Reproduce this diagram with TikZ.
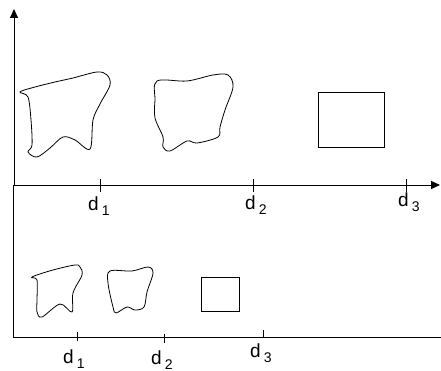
\documentclass[tikz,border=0pt]{standalone}
\usepackage{fontspec}
\setmainfont{Liberation Sans}
\usepackage{tikz}
\usetikzlibrary{arrows.meta,positioning}
\newcommand{\dlab}[1]{d\hspace{3pt}\raisebox{-5pt}{\fontsize{14}{14}\selectfont #1}}

\begin{document}
\begin{tikzpicture}[x=1pt,y=-1pt,font=\fontsize{19}{21}\selectfont,
axis/.style={line width=0.9pt,-{Triangle[length=9pt,width=8pt]}},
frame/.style={line width=0.8pt},
tickmark/.style={line width=0.8pt},
blob/.style={line width=0.8pt,smooth cycle,tension=0.55},
lbl/.style={anchor=base west,inner sep=0pt}]
\useasboundingbox (0,0) rectangle (441,371);
% axes and lower frame
\coordinate (origin) at (14,185);
\coordinate (ytip) at (14,9);
\coordinate (xtip) at (440,185);
\coordinate (lowtl) at (13,185);
\coordinate (lowbl) at (13,337);
\coordinate (lowbr) at (441,337);
\draw[axis] (origin)--(ytip);
\draw[axis] (origin)--(xtip);
\draw[frame] (lowtl)--(lowbl)--(lowbr);
% upper ticks and labels
\foreach \x in {100,253,406} \draw[tickmark] (\x,179)--(\x,192);
\node[lbl] (up1) at (88,211) {\dlab{1}};
\node[lbl] (up2) at (245,210) {\dlab{2}};
\node[lbl] (up3) at (398,207) {\dlab{3}};
% lower ticks and labels
\draw[tickmark] (77,332)--(77,341);
\draw[tickmark] (164,334)--(164,343);
\draw[tickmark] (263,330)--(263,338);
\node[lbl] (low1) at (63,363) {\dlab{1}};
\node[lbl] (low2) at (151,364) {\dlab{2}};
\node[lbl] (low3) at (250,357) {\dlab{3}};
% upper shapes
\draw[blob] plot coordinates {(20,92) (28,97) (31,120) (32,145) (28,152) (37,157) (50,148) (63,137) (75,140) (90,149) (93,120) (100,104) (110,85) (107,75) (97,72) (73,78) (55,82) (35,87)};
\draw[blob] plot coordinates {(157,81) (187,81) (213,75) (228,75) (233,87) (225,110) (220,127) (218,137) (197,143) (187,141) (170,151) (163,147) (163,137) (155,118) (155,100)};
\draw[frame] (318,92) rectangle (384,147);
% lower shapes
\draw[blob] plot coordinates {(32,277) (37,280) (37,300) (37,312) (42,317) (60,304) (72,312) (73,293) (82,275) (80,267) (75,265) (53,270)};
\draw[blob] plot coordinates {(110,271) (132,271) (148,267) (153,273) (147,292) (144,307) (135,310) (127,307) (116,313) (113,307) (108,283)};
\draw[frame] (201,277) rectangle (239,311);
\end{tikzpicture}
\end{document}
